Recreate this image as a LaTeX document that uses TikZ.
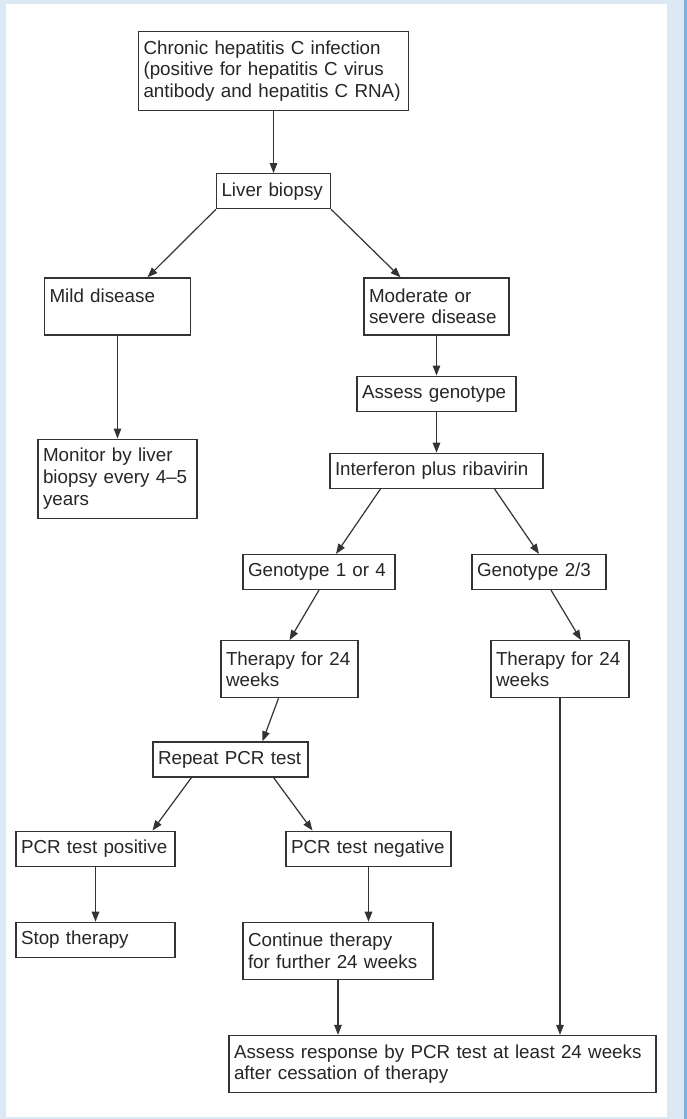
\documentclass[tikz,border=0pt]{standalone}
\usepackage{fontspec}
\setmainfont{Liberation Sans}
\usetikzlibrary{positioning}
\usetikzlibrary{arrows.meta}
\definecolor{panelblue}{RGB}{221,232,245}
\definecolor{stripeblue}{RGB}{122,176,224}
\newcommand{\chartfont}{\fontsize{18.8pt}{21.7pt}\selectfont\color{black!85}}

\begin{document}
\begin{tikzpicture}[x=1pt, y=1pt,
		box/.style={rectangle, draw=black!80, line width=1.2pt, text width=#1, align=left, inner xsep=5pt, inner ysep=4pt, minimum height=35pt, font=\chartfont},
		tall/.style={minimum height=57pt},
		taller/.style={minimum height=79pt},
		arrow/.style={-{Triangle[length=10pt,width=7.5pt]}, line width=1.2pt, draw=black!80}
	]
		% page background
		\useasboundingbox (0,0) rectangle (687,-1119);
		\fill[panelblue] (0,0) rectangle (687,-1119);
		\fill[white] (6,-4) rectangle (667,-1117);
		\fill[stripeblue] (684,0) rectangle (687,-1119);

		\node[box=260pt, taller] (top) at (273.5,-71) {Chronic hepatitis C infection\\(positive for hepatitis C virus\\antibody and hepatitis C RNA)};
		\node[box=104pt, below=62pt of top] (liver) {Liver biopsy};
		\node[box=136pt, tall, below=68pt of liver, xshift=-156pt] (mild) {Mild disease\\\mbox{}};
		\node[box=135pt, tall, below=68pt of liver, xshift=163pt] (moderate) {Moderate or\\severe disease};
		\node[box=149pt, taller, below=103pt of mild] (monitor) {Monitor by liver\\biopsy every 4--5\\years};
		\node[box=149pt, below=40pt of moderate] (genotype) {Assess genotype};
		\node[box=203pt, below=41pt of genotype] (interferon) {Interferon plus ribavirin};
		\node[box=142pt, below=65pt of interferon, xshift=-117.5pt] (geno14) {Genotype 1 or 4};
		\node[box=124pt, below=65pt of interferon, xshift=102.5pt] (geno23) {Genotype 2/3};
		\node[box=127pt, tall, below=50pt of geno14, xshift=-29.5pt] (therapyL) {Therapy for 24\\weeks};
		\node[box=128pt, tall, below=50pt of geno23, xshift=21pt] (therapyR) {Therapy for 24\\weeks};
		\node[box=145pt, below=43pt of therapyL, xshift=-59pt] (repeat) {Repeat PCR test};
		\node[box=149pt, below=53pt of repeat, xshift=-135pt] (pos) {PCR test positive};
		\node[box=155pt, below=53pt of repeat, xshift=138pt] (neg) {PCR test negative};
		\node[box=149pt, below=55pt of pos] (stop) {Stop therapy};
		\node[box=180pt, tall, below=55pt of neg, xshift=-30.5pt] (continue) {Continue therapy\\for further 24 weeks};
		\node[box=417pt, tall, below=55pt of continue, xshift=104.5pt] (response) {Assess response by PCR test at least 24 weeks\\after cessation of therapy};

		\draw[arrow] (top) -- (liver);
		\draw[arrow] (liver.south west) -- ([xshift=30pt]mild.north);
		\draw[arrow] (liver.south east) -- ([xshift=-36pt]moderate.north);
		\draw[arrow] (mild) -- (monitor);
		\draw[arrow] (moderate) -- (genotype);
		\draw[arrow] (genotype) -- (interferon);
		\draw[arrow] ([xshift=-56pt]interferon.south) -- ([xshift=17pt]geno14.north);
		\draw[arrow] ([xshift=58pt]interferon.south) -- (geno23.north);
		\draw[arrow] (geno14.south) -- (therapyL.north);
		\draw[arrow] ([xshift=12pt]geno23.south) -- ([xshift=21pt]therapyR.north);
		\draw[arrow] ([xshift=-11pt]therapyL.south) -- ([xshift=32pt]repeat.north);
		\draw[arrow] (therapyR.south) -- (therapyR.south |- response.north);
		\draw[arrow] ([xshift=-39pt]repeat.south) -- ([xshift=57pt]pos.north);
		\draw[arrow] ([xshift=43pt]repeat.south) -- ([xshift=-56pt]neg.north);
		\draw[arrow] (pos) -- (stop);
		\draw[arrow] (neg.south) -- (neg.south |- continue.north);
		\draw[arrow] (continue.south) -- (continue.south |- response.north);
	\end{tikzpicture}
\end{document}
